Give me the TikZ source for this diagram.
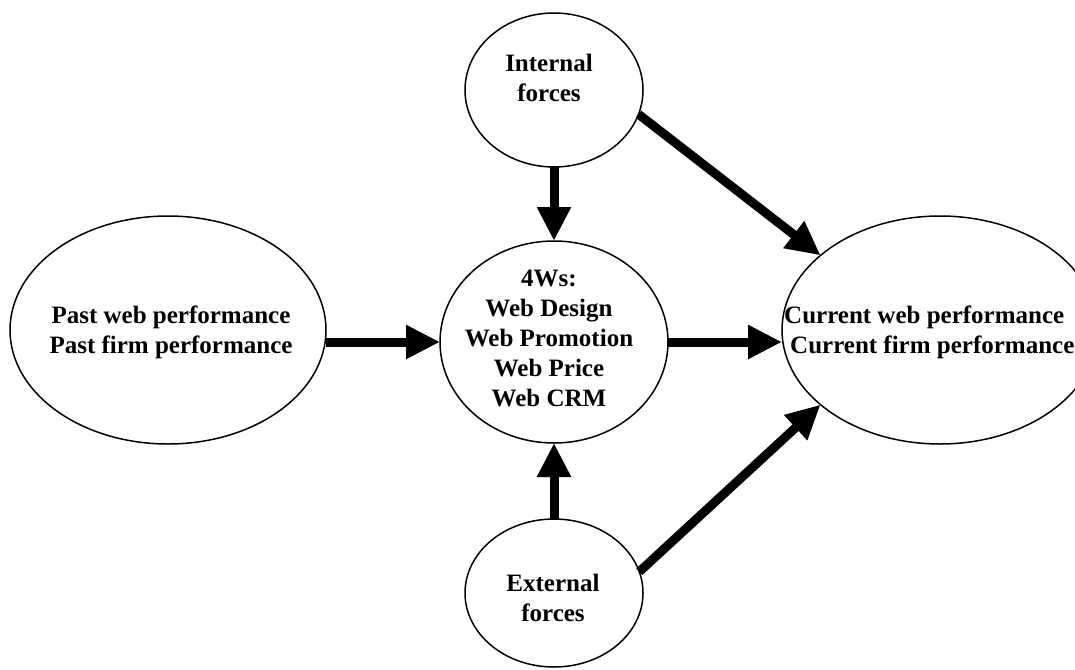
\documentclass[tikz,border=0pt]{standalone}
\usepackage{fontspec}
\setmainfont{Liberation Serif}
\usetikzlibrary{shapes.geometric,arrows.meta}
\begin{document}
\begin{tikzpicture}[x=1pt,y=-1pt,
  oval/.style={draw, ellipse, line width=1.5pt, inner sep=0pt, outer sep=0pt},
  txt/.style={font=\fontsize{25}{30}\selectfont\bfseries, align=center, inner sep=0pt},
  arr/.style={line width=9pt, -{Triangle[width=32pt,length=34pt]}}]
\useasboundingbox (0,0) rectangle (1075,669);
\clip (0,0) rectangle (1075,669);
\node[oval, minimum width=316pt, minimum height=228pt] (past) at (168,330) {};
\node[oval, minimum width=228pt, minimum height=202pt] (ws) at (554,342) {};
\node[oval, minimum width=178pt, minimum height=154pt] (int) at (554,90) {};
\node[oval, minimum width=178pt, minimum height=148pt] (ext) at (554,593) {};
\node[oval, minimum width=316pt, minimum height=228pt] (cur) at (940,330) {};
\node[txt] (pastT) at (171,332) {Past web performance\\Past firm performance};
\node[txt] (wsT) at (549,338) {4Ws:\\Web Design\\Web Promotion\\Web Price\\Web CRM};
\node[txt] (intT) at (549,78) {Internal\\forces};
\node[txt] (extT) at (553,598) {External\\forces};
\node[txt, align=left, anchor=west] (curT) at (784,332) {Current web performance\\\hspace*{6pt}Current firm performance};
\draw[arr] (past.east |- ws.west) -- (ws.west);
\draw[arr] (ws.east) -- (cur.west |- ws.east);
\draw[arr] (int.south) -- (ws.north);
\draw[arr] (ext.north) -- (ws.south);
\draw[arr] (int.-16) -- (cur.148);
\draw[arr] (ext.14) -- (cur.212);
\end{tikzpicture}
\end{document}
